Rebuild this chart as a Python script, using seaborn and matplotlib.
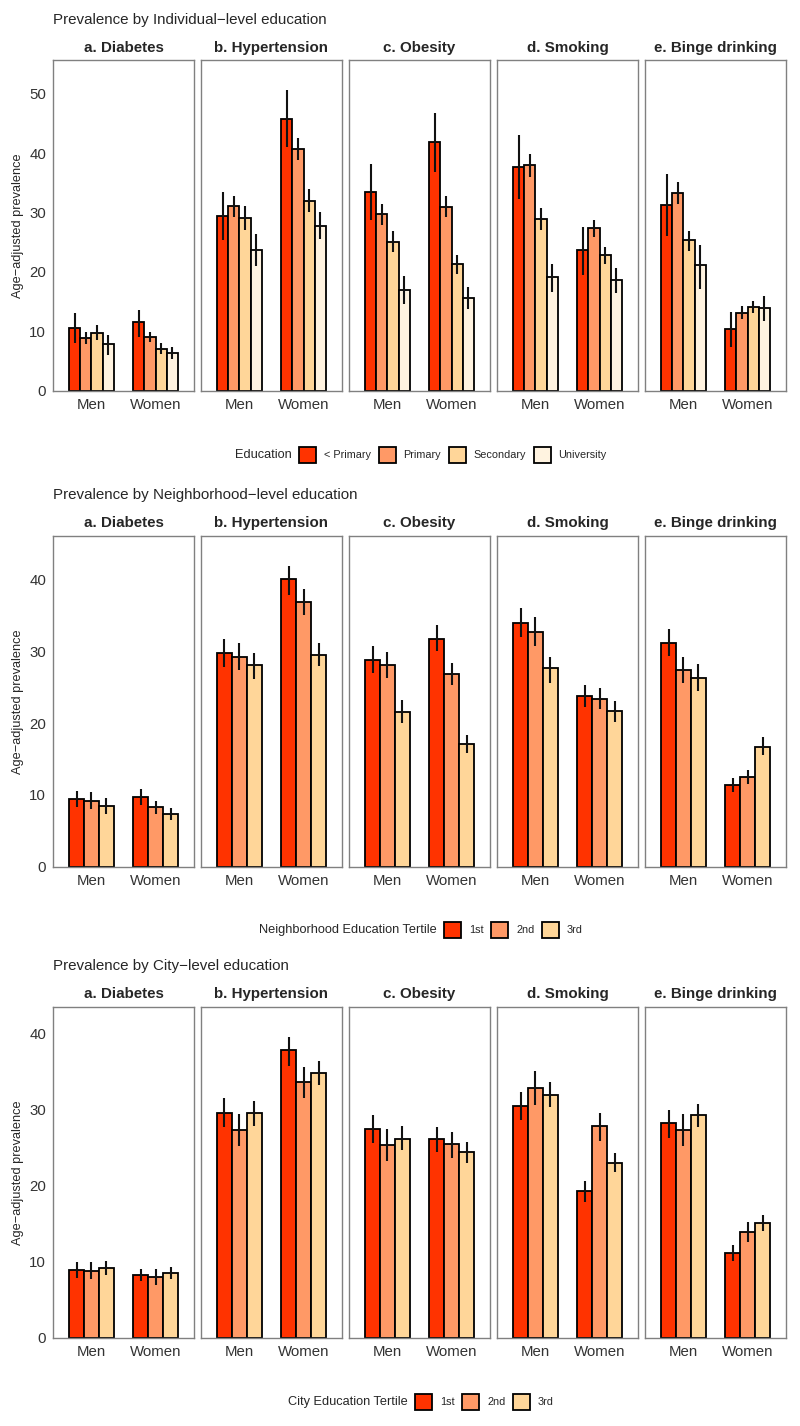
import pandas as pd
import matplotlib.pyplot as plt
import seaborn as sns
from matplotlib.patches import Patch

# Values (age-adjusted prevalence, %)
outcomes = ["a. Diabetes", "b. Hypertension", "c. Obesity", "d. Smoking", "e. Binge drinking"]
sexes = ["Men", "Women"]

ind_levels = ["< Primary", "Primary", "Secondary", "University"]
nbh_levels = ["1st", "2nd", "3rd"]
city_levels = ["1st", "2nd", "3rd"]

# each row: Men (levels...) then Women (levels...)
ind_est = [
    [10.5, 8.85, 9.7, 7.8, 11.5, 9.1, 7.1, 6.3],
    [29.4, 31.1, 29.1, 23.7, 45.8, 40.7, 32.0, 27.8],
    [33.5, 29.7, 25.1, 17.0, 41.8, 31.0, 21.3, 15.6],
    [37.7, 38.0, 28.9, 19.1, 23.6, 27.3, 22.8, 18.6],
    [31.3, 33.3, 25.3, 21.2, 10.4, 13.1, 14.1, 13.9],
]
ind_lo = [
    [8.1, 7.9, 8.45, 6.05, 9.0, 8.2, 6.2, 5.3],
    [25.4, 29.3, 27.1, 21.0, 41.0, 38.8, 30.1, 25.5],
    [28.8, 27.9, 23.3, 14.6, 36.8, 29.3, 19.7, 13.8],
    [32.3, 35.9, 27.1, 16.6, 19.4, 25.8, 21.3, 16.5],
    [26.1, 31.4, 23.5, 17.2, 7.3, 12.0, 13.1, 11.8],
]
ind_hi = [
    [13.0, 9.8, 11.0, 9.35, 13.5, 9.9, 8.1, 7.3],
    [33.4, 32.8, 31.1, 26.4, 50.6, 42.6, 33.9, 30.1],
    [38.2, 31.5, 26.9, 19.3, 46.7, 32.7, 22.9, 17.4],
    [43.0, 39.9, 30.7, 21.4, 27.5, 28.8, 24.2, 20.7],
    [36.5, 35.1, 26.9, 24.6, 13.3, 14.2, 15.1, 15.9],
]

nbh_est = [
    [9.4, 9.1, 8.4, 9.7, 8.3, 7.4],
    [29.7, 29.2, 28.1, 40.0, 36.9, 29.5],
    [28.8, 28.1, 21.6, 31.7, 26.8, 17.1],
    [34.0, 32.7, 27.6, 23.8, 23.4, 21.7],
    [31.1, 27.4, 26.3, 11.4, 12.5, 16.7],
]
nbh_lo = [
    [8.3, 8.0, 7.4, 8.6, 7.4, 6.5],
    [27.8, 27.4, 26.2, 37.9, 35.1, 27.9],
    [27.0, 26.3, 20.0, 30.1, 25.3, 15.8],
    [32.0, 30.8, 25.6, 22.3, 21.9, 20.2],
    [29.4, 25.6, 24.5, 10.4, 11.5, 15.5],
]
nbh_hi = [
    [10.6, 10.35, 9.5, 10.8, 9.2, 8.2],
    [31.65, 31.1, 29.8, 41.9, 38.7, 31.1],
    [30.7, 29.9, 23.2, 33.6, 28.4, 18.3],
    [36.0, 34.8, 29.2, 25.3, 24.9, 23.1],
    [33.1, 29.2, 28.2, 12.4, 13.5, 18.0],
]

city_est = [
    [8.9, 8.8, 9.2, 8.3, 8.0, 8.55],
    [29.6, 27.3, 29.6, 37.8, 33.6, 34.8],
    [27.5, 25.4, 26.2, 26.1, 25.5, 24.4],
    [30.5, 32.9, 32.0, 19.3, 27.8, 23.0],
    [28.2, 27.3, 29.3, 11.1, 13.9, 15.1],
]
city_lo = [
    [7.8, 7.7, 8.25, 7.5, 7.0, 7.76],
    [27.7, 25.2, 27.9, 35.8, 31.6, 33.2],
    [25.6, 23.3, 24.7, 24.5, 23.7, 23.0],
    [28.6, 30.6, 30.3, 17.8, 25.9, 21.75],
    [26.3, 25.2, 27.7, 10.1, 12.6, 14.1],
]
city_hi = [
    [9.96, 9.96, 10.1, 9.1, 9.0, 9.34],
    [31.6, 29.4, 31.2, 39.6, 35.6, 36.4],
    [29.3, 27.4, 27.8, 27.7, 27.1, 25.7],
    [32.4, 35.1, 33.7, 20.6, 29.6, 24.3],
    [30.0, 29.4, 30.8, 12.2, 15.2, 16.1],
]

colors4 = ["#FF3300", "#FF9966", "#FFD699", "#FFF3E0"]


def to_long(est, lo, hi, levels):
    rows = []
    n = len(levels)
    for i, out in enumerate(outcomes):
        for s, sex in enumerate(sexes):
            for j, lev in enumerate(levels):
                k = s * n + j
                rows.append(dict(outcome=out, sex=sex, level=lev,
                                 val=est[i][k], lo=lo[i][k], hi=hi[i][k]))
    return pd.DataFrame(rows)


panels = [
    ("Prevalence by Individual\u2212level education", "Education",
     to_long(ind_est, ind_lo, ind_hi, ind_levels), ind_levels),
    ("Prevalence by Neighborhood\u2212level education", "Neighborhood Education Tertile",
     to_long(nbh_est, nbh_lo, nbh_hi, nbh_levels), nbh_levels),
    ("Prevalence by City\u2212level education", "City Education Tertile",
     to_long(city_est, city_lo, city_hi, city_levels), city_levels),
]

sns.set_style("white")
plt.rcParams["font.family"] = ["Liberation Sans", "DejaVu Sans"]

W, H = 800, 1426
fig = plt.figure(figsize=(W / 100, H / 100), dpi=100)

# layout in pixels
lefts = [53, 201, 349, 497, 645]
pw = 141
rows_px = [(60, 390.7), (535.7, 866.7), (1006.7, 1337.7)]
title_y = [20, 495, 966]
legend_y = [455, 930, 1402]
legend_x = [299, 444, 415]

for r, (title, leg_title, df, levels) in enumerate(panels):
    top, bot = rows_px[r]
    ymax = df["hi"].max() * 1.1
    pal = colors4[:len(levels)]
    for c, out in enumerate(outcomes):
        ax = fig.add_axes([lefts[c] / W, 1 - bot / H, pw / W, (bot - top) / H])
        sub = df[df["outcome"] == out]
        sns.barplot(data=sub, x="sex", y="val", hue="level", order=sexes,
                    hue_order=levels, palette=pal, width=0.7, gap=0,
                    edgecolor="black", linewidth=1.3, errorbar=None,
                    legend=False, saturation=1, ax=ax)
        # error bars at bar centres
        for lev, cont in zip(levels, ax.containers):
            s = sub[sub["level"] == lev].set_index("sex").loc[sexes]
            xs = [b.get_x() + b.get_width() / 2 for b in cont]
            ax.vlines(xs, s["lo"], s["hi"], color="#111111", linewidth=1.5, zorder=5)
        ax.set_xlim(-0.6, 1.6)
        ax.set_ylim(0, ymax)
        ax.set_yticks(range(0, int(ymax) + 1, 10))
        ax.set_xlabel("")
        ax.set_ylabel("")
        ax.tick_params(axis="both", length=3, width=0.8, color="#555555",
                       labelsize=10.8, labelcolor="#333333", pad=2)
        if c > 0:
            ax.tick_params(axis="y", labelleft=False, length=0)
        for sp in ax.spines.values():
            sp.set_color("#808080")
            sp.set_linewidth(1.0)
        ax.set_title(out, fontsize=10.9, fontweight="bold", pad=6)
        if c == 0:
            ax.set_ylabel("Age\u2212adjusted prevalence", fontsize=9.2, labelpad=4)

    fig.text(53 / W, 1 - title_y[r] / H, title, fontsize=10.9, ha="left", va="center")

    handles = [Patch(facecolor=col, edgecolor="black", linewidth=1.3) for col in pal]
    fig.text((legend_x[r] - 7) / W, 1 - legend_y[r] / H, leg_title,
             fontsize=9.2, ha="right", va="center")
    fig.legend(handles, levels, loc="center left",
               bbox_to_anchor=(legend_x[r] / W, 1 - legend_y[r] / H),
               ncol=len(levels), frameon=False, fontsize=7.8,
               handlelength=1.6, handleheight=1.9, handletextpad=0.7,
               columnspacing=0.7, borderpad=0, borderaxespad=0)

fig.savefig("out.png", dpi=100)
